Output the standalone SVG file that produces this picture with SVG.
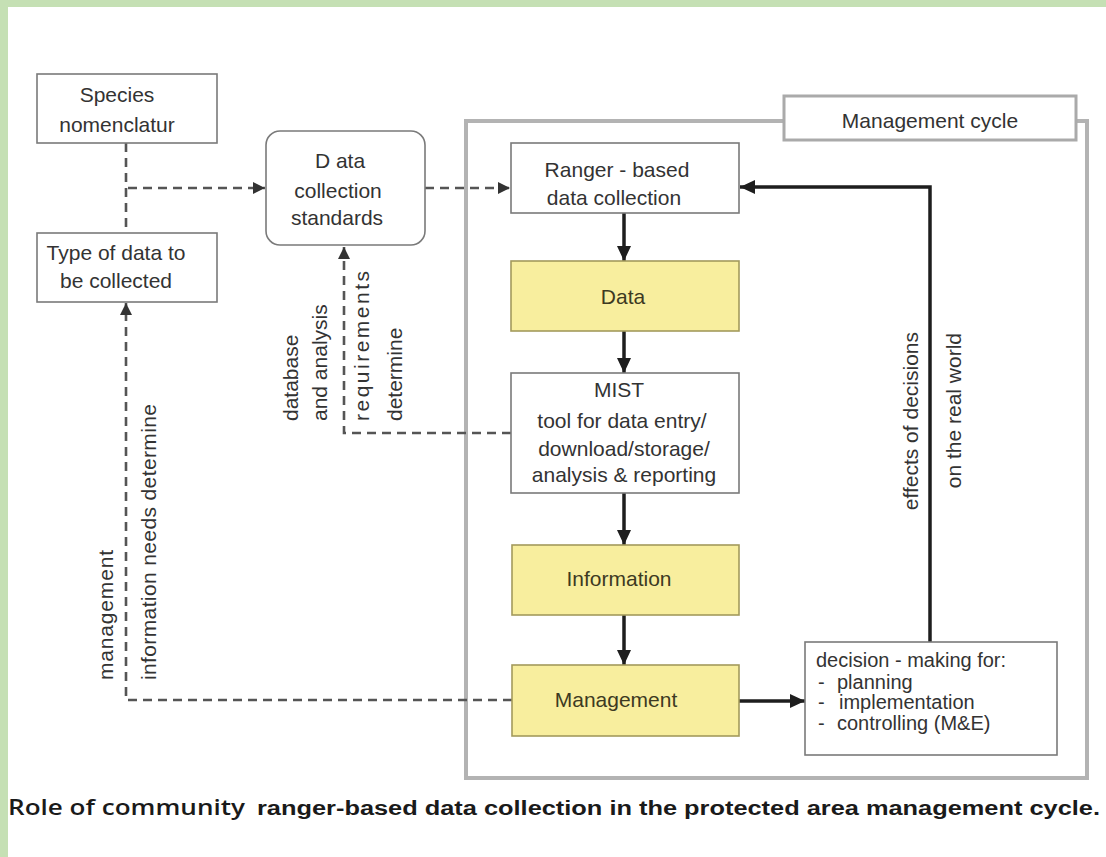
<svg xmlns="http://www.w3.org/2000/svg" width="1106" height="857" viewBox="0 0 1106 857">
<style>
.t{font-family:"Liberation Sans",Arial,sans-serif;font-size:21px;fill:#333}
.m{text-anchor:middle}
.box{fill:#fff;stroke:#7a7a7a;stroke-width:1.6}
.ybox{fill:#f8ee9e;stroke:#a39a5c;stroke-width:1.6}
.solid{fill:none;stroke:#1e1e1e;stroke-width:3.5}
.dash{fill:none;stroke:#555;stroke-width:2.6;stroke-dasharray:9 6}
</style>
<defs>
<marker id="ah" markerUnits="userSpaceOnUse" markerWidth="16" markerHeight="16" refX="15" refY="7" orient="auto"><path d="M0,0 L15,7 L0,14 z" fill="#1e1e1e"/></marker>
<marker id="dh" markerUnits="userSpaceOnUse" markerWidth="13" markerHeight="13" refX="12" refY="6" orient="auto"><path d="M0,0 L12,6 L0,12 z" fill="#333"/></marker>
</defs>
<rect x="0" y="0" width="1106" height="857" fill="#fff"/>
<rect x="0" y="0" width="1106" height="7" fill="#c5e0b4"/>
<rect x="0" y="0" width="8" height="857" fill="#c5e0b4"/>

<g id="frame">
<rect x="466" y="121" width="621" height="657" fill="none" stroke="#b3b3b3" stroke-width="4"/>
<rect x="784" y="96" width="292" height="44" fill="#fff" stroke="#aaa" stroke-width="3"/>
<text class="t m" x="930" y="128">Management cycle</text>
</g>

<g id="connectors">
<path class="dash" d="M126,143 V233"/>
<path class="dash" d="M128,188 H265" marker-end="url(#dh)"/>
<path class="dash" d="M425,188 H510" marker-end="url(#dh)"/>
<path class="dash" d="M511,433 H344 V247" marker-end="url(#dh)"/>
<path class="dash" d="M512,700 H126 V303" marker-end="url(#dh)"/>
<path class="solid" d="M624,213 V261" marker-end="url(#ah)"/>
<path class="solid" d="M624,330 V373" marker-end="url(#ah)"/>
<path class="solid" d="M624,493 V545" marker-end="url(#ah)"/>
<path class="solid" d="M624,614 V665" marker-end="url(#ah)"/>
<path class="solid" d="M739,701 H805" stroke-width="5" marker-end="url(#ah)"/>
<path class="solid" d="M930,642 V187 H740" stroke-width="4.5" marker-end="url(#ah)"/>
</g>

<g id="species">
<rect class="box" x="37" y="74" width="180" height="69"/>
<text class="t m" x="117" y="102">Species</text>
<text class="t m" x="117" y="132">nomenclatur</text>
</g>
<g id="type">
<rect class="box" x="37" y="233" width="180" height="69"/>
<text class="t m" x="116" y="260">Type of data to</text>
<text class="t m" x="116" y="288">be collected</text>
</g>
<g id="standards">
<rect class="box" x="266" y="131" width="159" height="114" rx="14"/>
<text class="t m" x="340" y="168">D ata</text>
<text class="t m" x="338" y="198">collection</text>
<text class="t m" x="337" y="225">standards</text>
</g>
<g id="ranger">
<rect class="box" x="511" y="143" width="228" height="70"/>
<text class="t m" x="617" y="177">Ranger - based</text>
<text class="t m" x="614" y="205">data collection</text>
</g>
<g id="data">
<rect class="ybox" x="511" y="261" width="228" height="70"/>
<text class="t m" x="623" y="304" style="fill:#3d3a22">Data</text>
</g>
<g id="mist">
<rect class="box" x="511" y="373" width="228" height="120"/>
<text class="t m" x="619" y="397">MIST</text>
<text class="t m" x="622" y="428">tool for data entry/</text>
<text class="t m" x="624" y="456">download/storage/</text>
<text class="t m" x="624" y="482">analysis &amp; reporting</text>
</g>
<g id="information">
<rect class="ybox" x="512" y="545" width="227" height="70"/>
<text class="t m" x="619" y="586" style="fill:#3d3a22">Information</text>
</g>
<g id="management">
<rect class="ybox" x="512" y="665" width="227" height="71"/>
<text class="t m" x="616" y="707" style="fill:#3d3a22">Management</text>
</g>
<g id="decision">
<rect class="box" x="805" y="642" width="252" height="113"/>
<text class="t" x="816" y="667" style="font-size:20px">decision - making for:</text>
<text class="t" x="818" y="689" style="font-size:20px">-</text>
<text class="t" x="837" y="689" style="font-size:20px">planning</text>
<text class="t" x="818" y="709" style="font-size:20px">-</text>
<text class="t" x="839" y="709" style="font-size:20px">implementation</text>
<text class="t" x="818" y="730" style="font-size:20px">-</text>
<text class="t" x="837" y="730" style="font-size:20px">controlling (M&amp;E)</text>
</g>

<g id="labels">
<text class="t" transform="translate(298,421) rotate(-90)">database</text>
<text class="t" transform="translate(327,421) rotate(-90)">and analysis</text>
<text class="t" transform="translate(369,421) rotate(-90)" textLength="150">requirements</text>
<text class="t" transform="translate(402,421) rotate(-90)">determine</text>
<text class="t" transform="translate(113,680) rotate(-90)" textLength="130">management</text>
<text class="t" transform="translate(156,680) rotate(-90)" textLength="276">information needs determine</text>
<text class="t" transform="translate(918,332) rotate(-90)" style="text-anchor:end">effects of decisions</text>
<text class="t" transform="translate(961,333) rotate(-90)" style="text-anchor:end">on the real world</text>
</g>

<g id="caption">
<text x="8" y="815" textLength="237" lengthAdjust="spacingAndGlyphs" style="font-family:'Open Sans','Liberation Sans',sans-serif;font-size:21px;font-weight:600;fill:#1a1a1a">Role of community</text>
<text x="257" y="815" textLength="843" lengthAdjust="spacingAndGlyphs" style="font-family:'Liberation Sans',Arial,sans-serif;font-size:20px;font-weight:bold;fill:#1a1a1a">ranger-based data collection in the protected area management cycle.</text>
</g>
</svg>
